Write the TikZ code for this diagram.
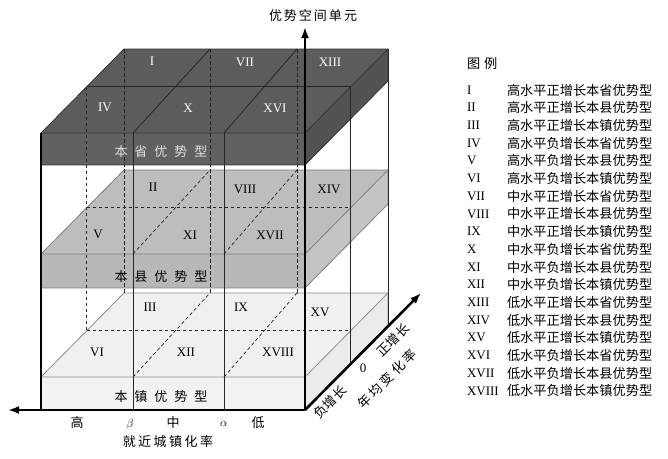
\documentclass[tikz,border=0pt]{standalone}
\usepackage{fontspec}
\setmainfont{Liberation Serif}
\newfontfamily\cjk{Noto Sans CJK SC}
\usetikzlibrary{arrows.meta,calc}
\newcommand\rsz{\fontsize{13}{15}\selectfont}
\newcommand\csz{\fontsize{13}{15}\selectfont\cjk}
\newcommand\lsz{\fontsize{13.2}{15}\selectfont\cjk}
\begin{document}
\begin{tikzpicture}[x=1pt,y=-1pt,
  every node/.style={inner sep=0pt,outer sep=0pt},
  axisline/.style={line width=2.6pt,-{Latex[length=11pt,width=8pt]}},
  solidline/.style={line width=0.8pt,black!85},
  hidline/.style={line width=0.7pt,black!85,dash pattern=on 3.5pt off 2.5pt},
  rnum/.style={font=\rsz},
  slabtxt/.style={font=\csz},
  edgeA/.style={line width=0.8pt,black!80},
  edgeB/.style={line width=0.8pt,black!50},
  edgeC/.style={line width=0.8pt,black!45}]
\useasboundingbox (0,0) rectangle (668,458);

% ---------- slab fills ----------
% top slab (本省优势型)
\fill[black!64] (41,133) -- (124,49) -- (388,49) -- (305,133) -- cycle;
\fill[black!62] (41,133) rectangle (305,165);
\fill[black!68] (305,133) -- (388,49) -- (388,81) -- (305,165) -- cycle;
% middle slab (本县优势型)
\fill[black!26] (41,254) -- (124,170) -- (388,170) -- (305,254) -- cycle;
\fill[black!28] (41,254) rectangle (305,288);
\fill[black!23] (305,254) -- (388,170) -- (388,204) -- (305,288) -- cycle;
% bottom slab (本镇优势型)
\fill[black!6] (41,377) -- (124,293) -- (388,293) -- (305,377) -- cycle;
\fill[black!5] (41,377) rectangle (305,410);
\fill[black!8] (305,377) -- (388,293) -- (388,326) -- (305,410) -- cycle;

% ---------- slab outlines ----------
\draw[edgeA] (41,165) -- (41,133) -- (124,49) -- (388,49) -- (388,81) -- (305,165) -- cycle;
\draw[edgeA] (41,133) -- (305,133) -- (388,49);
\draw[edgeB] (41,288) -- (41,254) -- (124,170) -- (388,170) -- (388,204) -- (305,288) -- cycle;
\draw[edgeB] (41,254) -- (305,254) -- (388,170);
\draw[edgeC] (41,410) -- (41,377) -- (124,293) -- (388,293) -- (388,326) -- (305,410) -- cycle;
\draw[edgeC] (41,377) -- (305,377) -- (388,293);

% ---------- grid on slab tops ----------
\draw[solidline] (86.6,86.8) -- (350.6,86.8);
\draw[solidline] (133,133) -- (210,49);
\draw[solidline] (224,133) -- (297,49);
\draw[hidline] (86.6,207.8) -- (350.6,207.8);
\draw[hidline] (133,254) -- (210,170);
\draw[hidline] (224,254) -- (297,170);
\draw[hidline] (86.6,330.8) -- (350.6,330.8);
\draw[hidline] (133,377) -- (210,293);
\draw[hidline] (224,377) -- (297,293);

% ---------- verticals ----------
\draw[hidline] (86.6,86.8) -- (86.6,330.8);
\draw[hidline] (124,49) -- (124,293);
\draw[hidline] (210,49) -- (210,293);
\draw[hidline] (297,49) -- (297,293);
\draw[line width=1.3pt,black] (41,133) -- (41,410);
\draw[solidline] (133,133) -- (133,410);
\draw[solidline] (224,133) -- (224,410);
\draw[solidline] (350.6,86.8) -- (350.6,363.8);
\draw[solidline] (388,49) -- (388,326);

% ---------- axes ----------
\coordinate (O) at (305,410);
\coordinate (Ytip) at (305,27);
\coordinate (Xtip) at (8,410);
\coordinate (Ztip) at (421,293);
\draw[axisline] (O) -- (Ytip);
\draw[axisline] (O) -- (Xtip);
\draw[axisline] (O) -- (Ztip);

% ---------- slab labels ----------
\node[rnum,text=white] (nI) at (152,61) {I};
\node[rnum,text=white] (nVII) at (245,62) {VII};
\node[rnum,text=white] (nXIII) at (330,62) {XIII};
\node[rnum,text=white] (nIV) at (105,107) {IV};
\node[rnum,text=white] (nX) at (188,108) {X};
\node[rnum,text=white] (nXVI) at (275,108) {XVI};
\node[slabtxt,text=black!12] (sheng) at (161,152) {本\kern7pt省\kern7pt优\kern7pt势\kern7pt型};

\node[rnum] (nII) at (153,187) {II};
\node[rnum] (nVIII) at (245,189) {VIII};
\node[rnum] (nXIV) at (329,189) {XIV};
\node[rnum] (nV) at (98,234) {V};
\node[rnum] (nXI) at (190,235) {XI};
\node[rnum] (nXVII) at (270,235) {XVII};
\node[slabtxt] (xian) at (161,277) {本\kern7pt县\kern7pt优\kern7pt势\kern7pt型};

\node[rnum] (nIII) at (150,307) {III};
\node[rnum] (nIX) at (241,307) {IX};
\node[rnum] (nXV) at (320,312) {XV};
\node[rnum] (nVI) at (97,352) {VI};
\node[rnum] (nXII) at (186,352) {XII};
\node[rnum] (nXVIII) at (278,352) {XVIII};
\node[slabtxt] (zhen) at (161,397) {本\kern7pt镇\kern7pt优\kern7pt势\kern7pt型};

% ---------- axis labels ----------
\node[slabtxt] (ylab) at (313,16) {优\kern2pt势\kern2pt空\kern2pt间\kern2pt单\kern2pt元};
\node[slabtxt] (gao) at (77,423) {高};
\node[font=\rsz] (beta) at (130,424) {$\beta$};
\node[slabtxt] (zhong) at (173,423) {中};
\node[font=\rsz] (alpha) at (224,424) {$\alpha$};
\node[slabtxt] (di) at (258,423) {低};
\node[slabtxt] (xlab) at (168,442) {就\kern2.5pt近\kern2.5pt城\kern2.5pt镇\kern2.5pt化\kern2.5pt率};
\node[slabtxt,rotate=45] (fu) at (330,402) {负增长};
\node[rnum] (zero) at (363,368) {0};
\node[slabtxt,rotate=45] (zheng) at (393,340) {正增长};
\node[slabtxt,rotate=45] (zlab) at (387,379) {年\kern3pt均\kern3pt变\kern3pt化\kern3pt率};

% ---------- legend ----------
\node[font=\lsz,anchor=west] (legtitle) at (467,63) {图\kern4pt例};
\foreach \r/\t [count=\i from 0] in {
  I/高水平正增长本省优势型, II/高水平正增长本县优势型, III/高水平正增长本镇优势型,
  IV/高水平负增长本省优势型, V/高水平负增长本县优势型, VI/高水平负增长本镇优势型,
  VII/中水平正增长本省优势型, VIII/中水平正增长本县优势型, IX/中水平正增长本镇优势型,
  X/中水平负增长本省优势型, XI/中水平负增长本县优势型, XII/中水平负增长本镇优势型,
  XIII/低水平正增长本省优势型, XIV/低水平正增长本县优势型, XV/低水平正增长本镇优势型,
  XVI/低水平负增长本省优势型, XVII/低水平负增长本县优势型, XVIII/低水平负增长本镇优势型}{
  \node[rnum,anchor=west] (lr\i) at (467,{90+17.7*\i}) {\r};
  \node[font=\lsz,anchor=west] (lt\i) at (507,{90+17.7*\i}) {\t};
}
\end{tikzpicture}
\end{document}
